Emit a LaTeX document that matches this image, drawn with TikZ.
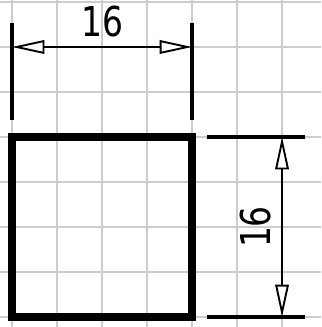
\documentclass[tikz,border=0pt]{standalone}
\usepackage{fontspec}
\setmainfont{DejaVu Sans}
\usepackage{graphicx}
\usetikzlibrary{arrows.meta,calc}

\newcommand{\dimtext}[1]{\scalebox{0.8}[1]{#1}}

\begin{document}
\begin{tikzpicture}[x=1cm,y=1cm,
  gridln/.style={gray!40,line width=1pt},
  part/.style={line width=5pt},
  ext/.style={line width=2.2pt},
  dim/.style={line width=1.2pt,{Triangle[length=0.72cm,width=0.3cm,fill=white]}-{Triangle[length=0.72cm,width=0.3cm,fill=white]}},
  lbl/.style={font=\fontsize{26}{30}\selectfont,inner sep=0pt}]
\useasboundingbox (-0.267,-0.222) rectangle (6.867,7.044);
\draw[gridln,step=1] (-0.267,-0.222) grid (6.867,7.044);
% part outline
\coordinate (sw) at (0,0);
\coordinate (ne) at (4,4);
\draw[part] (sw) rectangle (ne);
% width dimension
\coordinate (wl1) at (0,4.38);  \coordinate (wl2) at (0,6.53);
\coordinate (wr1) at (4,4.38);  \coordinate (wr2) at (4,6.53);
\draw[ext] (wl1) -- (wl2);
\draw[ext] (wr1) -- (wr2);
\coordinate (wa) at (0,6);
\coordinate (wb) at (4,6);
\draw[dim] (wa) -- (wb);
\node[lbl] (wtxt) at (2,6.556) {\dimtext{16}};
% height dimension
\coordinate (hb1) at (4.333,0); \coordinate (hb2) at (6.511,0);
\coordinate (ht1) at (4.333,4); \coordinate (ht2) at (6.511,4);
\draw[ext] (hb1) -- (hb2);
\draw[ext] (ht1) -- (ht2);
\coordinate (ha) at (6,0);
\coordinate (hb) at (6,4);
\draw[dim] (ha) -- (hb);
\node[lbl,rotate=90] (htxt) at (5.4,2) {\dimtext{16}};
\end{tikzpicture}
\end{document}
